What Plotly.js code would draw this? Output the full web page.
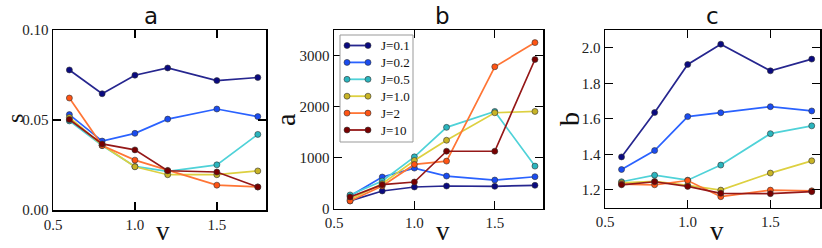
<!DOCTYPE html>
<html>
<head>
<meta charset="utf-8">
<script src="https://cdn.plot.ly/plotly-3.0.1.min.js"></script>
<style>html,body{margin:0;padding:0;background:#fff;}#chart{width:822px;height:248px;}</style>
</head>
<body>
<div id="chart"></div>
<script>
// ---- data ----
const v = [0.6, 0.8, 1.0, 1.2, 1.5, 1.75];
const seriesNames = ['J=0.1', 'J=0.2', 'J=0.5', 'J=1.0', 'J=2', 'J=10'];

// panel a: s
const s_J01 = [0.0778, 0.0646, 0.0749, 0.0789, 0.0719, 0.0736];
const s_J02 = [0.0530, 0.0383, 0.0426, 0.0505, 0.0561, 0.0519];
const s_J05 = [0.0495, 0.0358, 0.0242, 0.0215, 0.0251, 0.0420];
const s_J1  = [0.0514, 0.0361, 0.0240, 0.0196, 0.0196, 0.0217];
const s_J2  = [0.0622, 0.0358, 0.0277, 0.0220, 0.0138, 0.0128];
const s_J10 = [0.0503, 0.0367, 0.0334, 0.0218, 0.0211, 0.0128];

// panel b: a
const a_J01 = [149, 344, 422, 441, 435, 455];
const a_J02 = [247, 617, 792, 636, 558, 623];
const a_J05 = [266, 539, 1013, 1591, 1903, 831];
const a_J1  = [182, 487, 942, 1338, 1877, 1903];
const a_J2  = [149, 442, 864, 929, 2779, 3253];
const a_J10 = [227, 468, 519, 1123, 1123, 2922];

// panel c: b
const b_J01 = [1.385, 1.635, 1.906, 2.020, 1.870, 1.936];
const b_J02 = [1.314, 1.421, 1.612, 1.634, 1.668, 1.644];
const b_J05 = [1.245, 1.282, 1.254, 1.339, 1.516, 1.560];
const b_J1  = [1.239, 1.247, 1.225, 1.198, 1.294, 1.363];
const b_J2  = [1.232, 1.228, 1.252, 1.161, 1.198, 1.194];
const b_J10 = [1.228, 1.245, 1.219, 1.180, 1.178, 1.189];

// tick labels
const xTickVals = [0.5, 1.0, 1.5];
const xTickText = ['0.5', '1.0', '1.5'];
const sTickVals = [0, 0.05, 0.10];
const sTickText = ['0.00', '0.05', '0.10'];
const aTickVals = [0, 1000, 2000, 3000];
const aTickText = ['0', '1000', '2000', '3000'];
const bTickVals = [1.2, 1.4, 1.6, 1.8, 2.0];
const bTickText = ['1.2', '1.4', '1.6', '1.8', '2.0'];

// ---- styles ----
const lineColors = ['#26268f', '#2a62ff', '#4fd2d8', '#ddd040', '#ff7535', '#951818'];
const markColors = ['#0a0a80', '#1a4cf0', '#2ab5be', '#c8b426', '#ff5414', '#780000'];
const SERIF = "'Liberation Serif', 'Times New Roman', Times, serif";
const SANS = "'DejaVu Sans', sans-serif";

const panelA = [s_J01, s_J02, s_J05, s_J1, s_J2, s_J10];
const panelB = [a_J01, a_J02, a_J05, a_J1, a_J2, a_J10];
const panelC = [b_J01, b_J02, b_J05, b_J1, b_J2, b_J10];

const traces = [];
function addPanel(data, xa, ya) {
  data.forEach((ys, i) => {
    traces.push({
      x: v, y: ys, xaxis: xa, yaxis: ya,
      type: 'scatter', mode: 'lines+markers',
      name: seriesNames[i], showlegend: false,
      line: {color: lineColors[i], width: 1.7},
      marker: {color: markColors[i], size: 6, line: {color: '#333', width: 0.6}}
    });
  });
}
addPanel(panelA, 'x', 'y');
addPanel(panelB, 'x2', 'y2');
addPanel(panelC, 'x3', 'y3');

const W = 822, H = 248, MT = 30, MB = 38;
const PH = H - MT - MB;
const tickFont = {family: SERIF, size: 15, color: '#222'};
const px2x = p => p / W;
const px2y = p => (H - MB - p) / PH;

function xAx(l, r) {
  return {
    domain: [l / W, r / W], range: [0.5, 1.8],
    tickvals: xTickVals, ticktext: xTickText,
    ticks: 'inside', ticklen: 8, tickwidth: 1.3, tickcolor: '#000',
    showline: true, linecolor: '#000', linewidth: 1.5, mirror: 'ticks',
    showgrid: false, zeroline: false, tickfont: tickFont
  };
}
function yAx(anchor, bottomPx, range, vals, text) {
  return {
    anchor: anchor,
    domain: [px2y(bottomPx), 1], range: range,
    tickvals: vals, ticktext: text,
    ticks: 'inside', ticklen: 8, tickwidth: 1.3, tickcolor: '#000',
    showline: true, linecolor: '#000', linewidth: 1.5, mirror: 'ticks',
    showgrid: false, zeroline: false, tickfont: tickFont
  };
}

const layout = {
  width: W, height: H,
  margin: {l: 0, r: 0, t: MT, b: MB},
  paper_bgcolor: '#fff', plot_bgcolor: '#fff',
  showlegend: false,
  xaxis: Object.assign(xAx(53, 266), {anchor: 'y'}),
  yaxis: yAx('x', 210, [0, 0.1], sTickVals, sTickText),
  xaxis2: Object.assign(xAx(334, 543), {anchor: 'y2'}),
  yaxis2: yAx('x2', 208.5, [0, 3500], aTickVals, aTickText),
  xaxis3: Object.assign(xAx(605, 820), {anchor: 'y3'}),
  yaxis3: yAx('x3', 207.5, [1.1, 2.1], bTickVals, bTickText),
  annotations: [],
  shapes: []
};

function ann(text, xpx, ypx, size, family, angle, xanchor, yanchor) {
  layout.annotations.push({
    text: text, xref: 'paper', yref: 'paper',
    x: px2x(xpx), y: px2y(ypx),
    xanchor: xanchor || 'center', yanchor: yanchor || 'middle', showarrow: false,
    textangle: angle || 0,
    font: {family: family, size: size, color: '#111'}
  });
}
// panel titles
ann('a', 151, 16, 23, SANS);
ann('b', 442, 16, 23, SANS);
ann('c', 712, 16, 23, SANS);
// x labels
ann('v', 163, 248, 27, SERIF, 0, 'center', 'bottom');
ann('v', 443, 248, 27, SERIF, 0, 'center', 'bottom');
ann('v', 717, 248, 27, SERIF, 0, 'center', 'bottom');
// y labels
ann('s', 15, 118, 24, SERIF, -90);
ann('a', 285, 120, 28, SERIF, -90);
ann('b', 569, 119, 28, SERIF, -90);

// legend (panel b): frame, keys and labels
const LEG = {left: 340, top: 35, right: 413, bottom: 142, first: 45.5, step: 16.9,
             k0: 347, k1: 368, text: 379};
layout.shapes.push({type: 'rect', xref: 'paper', yref: 'paper',
  x0: px2x(LEG.left), x1: px2x(LEG.right), y0: px2y(LEG.bottom), y1: px2y(LEG.top),
  line: {color: '#999', width: 1}, fillcolor: '#fff', layer: 'above'});
seriesNames.forEach((name, i) => {
  const yy = LEG.first + i * LEG.step;
  layout.shapes.push({type: 'line', xref: 'paper', yref: 'paper',
    x0: px2x(LEG.k0), x1: px2x(LEG.k1), y0: px2y(yy), y1: px2y(yy),
    line: {color: lineColors[i], width: 1.8}, layer: 'above'});
  [LEG.k0, LEG.k1].forEach(cx => {
    layout.shapes.push({type: 'circle', xref: 'paper', yref: 'paper',
      x0: px2x(cx - 3), x1: px2x(cx + 3), y0: px2y(yy + 3), y1: px2y(yy - 3),
      line: {color: '#333', width: 0.6}, fillcolor: markColors[i], layer: 'above'});
  });
  ann(name, LEG.text, yy, 13, SERIF, 0, 'left');
});

Plotly.newPlot('chart', traces, layout, {staticPlot: true, displayModeBar: false});
</script>
</body>
</html>
